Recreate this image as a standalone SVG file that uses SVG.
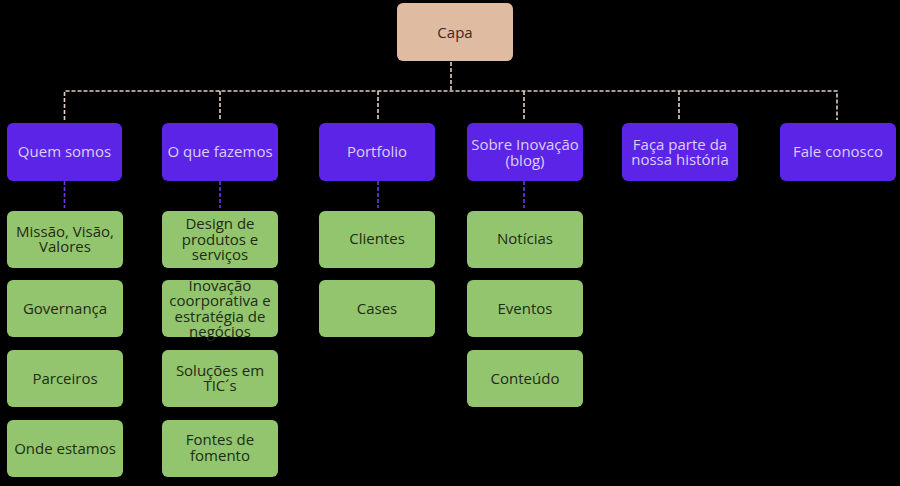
<svg xmlns="http://www.w3.org/2000/svg" width="900" height="486" viewBox="0 0 900 486">
<style>
text{font-family:"Open Sans","Liberation Sans",sans-serif;font-size:15px;text-anchor:middle}
.root rect{fill:#dfbba2}
.root text{fill:#3a2a22}
.l1 rect{fill:#5b24e6}
.l1 text{fill:#dccffb}
.l2 rect{fill:#93c56e}
.l2 text{fill:#1f2b14}
.c1{stroke:#e6cfc0;stroke-width:1.6;fill:none;stroke-dasharray:4 2}
.c2{stroke:#6a3ae8;stroke-width:1.6;fill:none;stroke-dasharray:4 2}
</style>
<rect width="900" height="486" fill="#000"/>
<g id="connectors">
<path class="c1" d="M451 62V91M64.5 120V91H837V120M220 91V120M378 91V120M524 91V120M679 91V120"/>
<path class="c2" d="M64.5 181V208M220 181V208M378 181V208M524 181V208"/>
</g>
<g id="capa" class="root"><rect x="397" y="3" width="116" height="58" rx="6"/><text x="455" y="38">Capa</text></g>
<g id="quem-somos" class="l1"><rect x="7" y="123" width="115" height="58" rx="6"/><text x="64.5" y="157">Quem somos</text></g>
<g id="o-que-fazemos" class="l1"><rect x="162" y="123" width="116" height="58" rx="6"/><text x="220" y="157">O que fazemos</text></g>
<g id="portfolio" class="l1"><rect x="319" y="123" width="116" height="58" rx="6"/><text x="377" y="157">Portfolio</text></g>
<g id="sobre-inovacao" class="l1"><rect x="467" y="123" width="116" height="58" rx="6"/><text x="525" y="150">Sobre Inovação</text><text x="525" y="166">(blog)</text></g>
<g id="faca-parte" class="l1"><rect x="622" y="123" width="116" height="58" rx="6"/><text x="680" y="150">Faça parte da</text><text x="680" y="165">nossa história</text></g>
<g id="fale-conosco" class="l1"><rect x="780" y="123" width="116" height="58" rx="6"/><text x="838" y="157">Fale conosco</text></g>
<g id="missao" class="l2"><rect x="7" y="211" width="116" height="57" rx="6"/><text x="65" y="237">Missão, Visão,</text><text x="65" y="252">Valores</text></g>
<g id="governanca" class="l2"><rect x="7" y="280" width="116" height="57" rx="6"/><text x="65" y="314">Governança</text></g>
<g id="parceiros" class="l2"><rect x="7" y="350" width="116" height="57" rx="6"/><text x="65" y="384">Parceiros</text></g>
<g id="onde-estamos" class="l2"><rect x="7" y="420" width="116" height="57" rx="6"/><text x="65" y="454">Onde estamos</text></g>
<g id="design" class="l2"><rect x="162" y="211" width="116" height="57" rx="6"/><text x="220" y="229">Design de</text><text x="220" y="245">produtos e</text><text x="220" y="260">serviços</text></g>
<g id="inovacao-corp" class="l2"><rect x="162" y="280" width="116" height="57" rx="6"/><text x="220" y="291">Inovação</text><text x="220" y="306">coorporativa e</text><text x="220" y="322">estratégia de</text><text x="220" y="337">negócios</text></g>
<g id="solucoes" class="l2"><rect x="162" y="350" width="116" height="57" rx="6"/><text x="220" y="376">Soluções em</text><text x="220" y="391">TIC´s</text></g>
<g id="fontes" class="l2"><rect x="162" y="420" width="116" height="57" rx="6"/><text x="220" y="445">Fontes de</text><text x="220" y="461">fomento</text></g>
<g id="clientes" class="l2"><rect x="319" y="211" width="116" height="57" rx="6"/><text x="377" y="244">Clientes</text></g>
<g id="cases" class="l2"><rect x="319" y="280" width="116" height="57" rx="6"/><text x="377" y="314">Cases</text></g>
<g id="noticias" class="l2"><rect x="467" y="211" width="116" height="57" rx="6"/><text x="525" y="244">Notícias</text></g>
<g id="eventos" class="l2"><rect x="467" y="280" width="116" height="57" rx="6"/><text x="525" y="314">Eventos</text></g>
<g id="conteudo" class="l2"><rect x="467" y="350" width="116" height="57" rx="6"/><text x="525" y="384">Conteúdo</text></g>
</svg>
